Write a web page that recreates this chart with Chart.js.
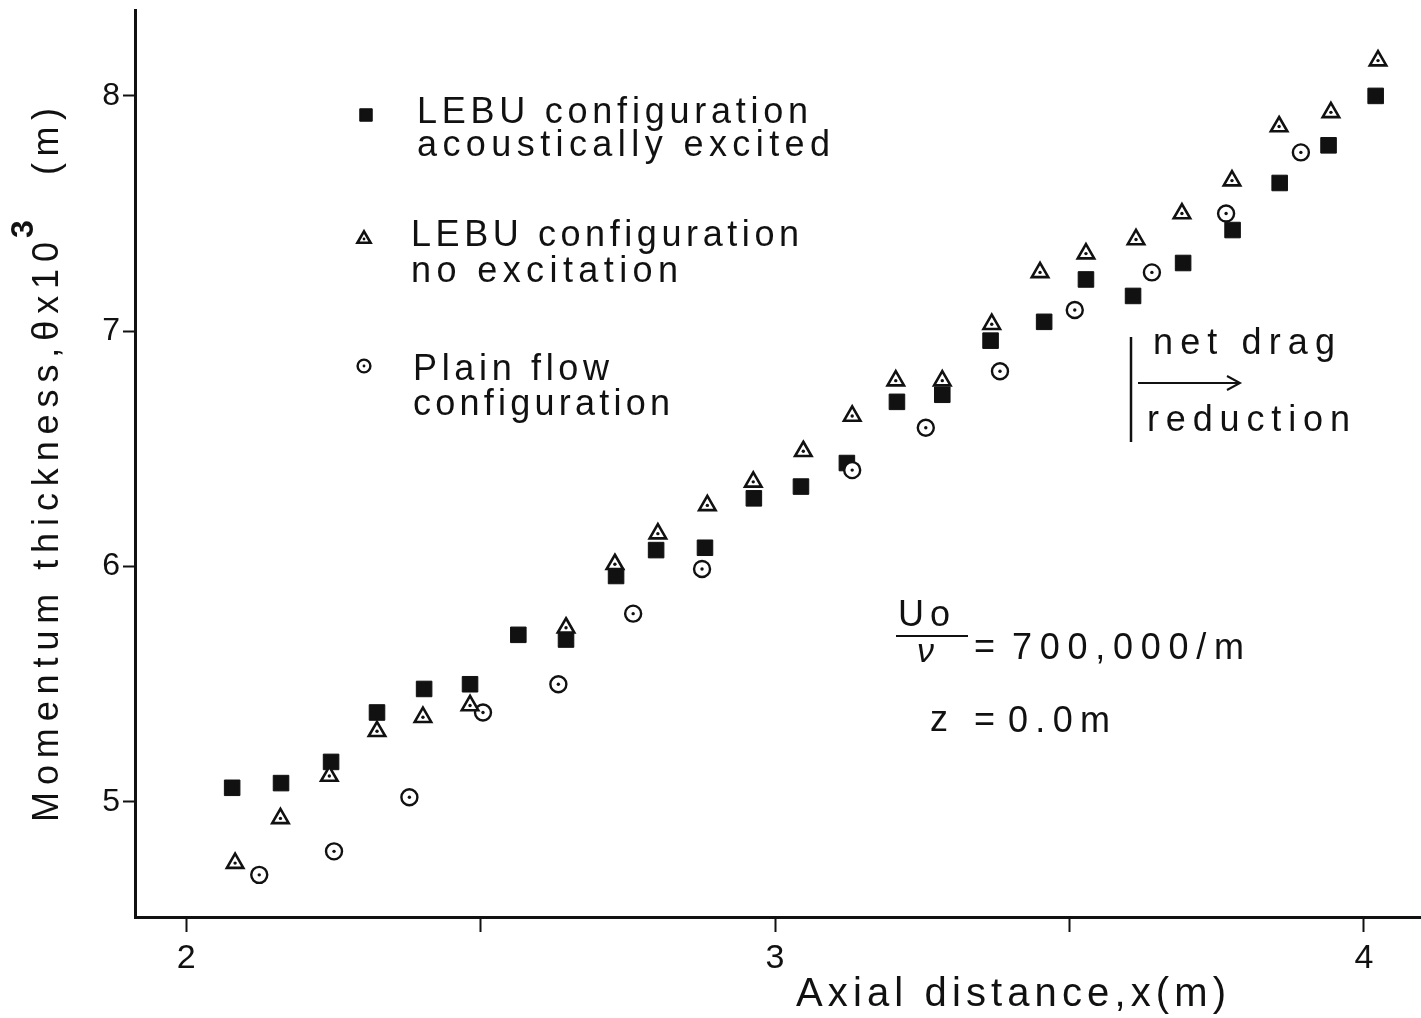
<!DOCTYPE html>
<html>
<head>
<meta charset="utf-8">
<script src="https://cdn.jsdelivr.net/npm/chart.js@4.4.1/dist/chart.umd.min.js"></script>
<style>
  html, body { margin: 0; padding: 0; background: #fff; }
  #wrap { width: 1421px; height: 1018px; position: relative; }
</style>
</head>
<body>
<div id="wrap"><canvas id="chart"></canvas></div>
<script>
// data
var excitedX = [2.078, 2.161, 2.246, 2.324, 2.404, 2.482, 2.564, 2.645, 2.730, 2.798, 2.881, 2.964, 3.044,
                3.122, 3.207, 3.284, 3.366, 3.457, 3.528, 3.608, 3.693, 3.777, 3.857, 3.940, 4.020];
var excitedY = [5.06, 5.08, 5.17, 5.38, 5.48, 5.50, 5.71, 5.69, 5.96, 6.07, 6.08, 6.29, 6.34,
                6.44, 6.70, 6.73, 6.96, 7.04, 7.22, 7.15, 7.29, 7.43, 7.63, 7.79, 8.00];

var noExcX = [2.083, 2.160, 2.243, 2.324, 2.402, 2.482, 2.645, 2.728, 2.801, 2.885, 2.963, 3.048,
              3.131, 3.205, 3.284, 3.368, 3.450, 3.528, 3.613, 3.691, 3.776, 3.856, 3.944, 4.024];
var noExcY = [4.74, 4.93, 5.11, 5.30, 5.36, 5.41, 5.74, 6.01, 6.14, 6.26, 6.36, 6.49,
              6.64, 6.79, 6.79, 7.03, 7.25, 7.33, 7.39, 7.50, 7.64, 7.87, 7.93, 8.15];

var plainX = [2.124, 2.251, 2.379, 2.504, 2.632, 2.759, 2.876, 3.131, 3.256, 3.382, 3.509, 3.640, 3.766, 3.893];
var plainY = [4.69, 4.79, 5.02, 5.38, 5.50, 5.80, 5.99, 6.41, 6.59, 6.83, 7.09, 7.25, 7.50, 7.76];

var xTicks = [2, 2.5, 3, 3.5, 4];
var xLabels = ['2', '', '3', '', '4'];
var yTicks = [5, 6, 7, 8];
var yLabels = ['5', '6', '7', '8'];

var seriesNames = [
    ['LEBU configuration', 'acoustically excited'],
    ['LEBU configuration', 'no excitation'],
    ['Plain flow', 'configuration']
];

var FONT = '"Liberation Sans", Arial, sans-serif';
var NARROW = '"Liberation Sans Narrow", "Liberation Sans", Arial, sans-serif';
var INK = '#111';

function pairs(xs, ys) {
    return xs.map(function(x, i) { return {x: x, y: ys[i]}; });
}

// write text stretched to a given width with letter spacing
function spaced(ctx, s, x, y, size, width, family, weight) {
    ctx.font = (weight || 'normal') + ' ' + size + 'px ' + (family || FONT);
    ctx.letterSpacing = '0px';
    var w = ctx.measureText(s).width;
    var sp = width ? (width - w) / Math.max(1, s.length - 1) : 0;
    ctx.letterSpacing = sp + 'px';
    ctx.fillText(s, x, y);
    ctx.letterSpacing = '0px';
    return width || w;
}

// keep the plot box where the figure has it
function noEdgePadding(scale) {
    scale.paddingTop = 0;
    scale.paddingBottom = 0;
    scale.paddingLeft = 0;
    scale.paddingRight = 0;
}

var centreDots = {
    id: 'centreDots',
    afterDatasetsDraw: function(chart) {
        var ctx = chart.ctx;
        ctx.save();
        ctx.fillStyle = INK;
        chart.data.datasets.forEach(function(ds, i) {
            if (!ds.centreDot) return;
            chart.getDatasetMeta(i).data.forEach(function(pt) {
                ctx.beginPath();
                ctx.arc(pt.x, pt.y, 1.7, 0, Math.PI * 2);
                ctx.fill();
            });
        });
        ctx.restore();
    }
};

var notes = {
    id: 'notes',
    afterDraw: function(chart) {
        var ctx = chart.ctx;
        ctx.save();
        ctx.fillStyle = INK;
        ctx.strokeStyle = INK;
        ctx.textBaseline = 'alphabetic';
        ctx.textAlign = 'left';

        // legend
        var rows = [{mx: 366, my: 115, tx: 417, b1: 123, b2: 156, w1: 391, w2: 413},
                    {mx: 364, my: 239, tx: 411, b1: 246, b2: 282, w1: 388, w2: 267},
                    {mx: 364, my: 366, tx: 413, b1: 380, b2: 415, w1: 196, w2: 257}];
        rows.forEach(function(r, i) {
            var ds = chart.data.datasets[i];
            ctx.save();
            ctx.fillStyle = ds.backgroundColor;
            ctx.strokeStyle = ds.borderColor;
            ctx.lineWidth = ds.borderWidth;
            Chart.helpers.drawPoint(ctx, {pointStyle: ds.pointStyle, radius: ds.pointRadius * 0.8,
                                          rotation: 0, borderWidth: ds.borderWidth}, r.mx, r.my);
            if (ds.centreDot) {
                ctx.fillStyle = INK;
                ctx.beginPath(); ctx.arc(r.mx, r.my, 1.4, 0, Math.PI * 2); ctx.fill();
            }
            ctx.restore();
            spaced(ctx, seriesNames[i][0], r.tx, r.b1, 36, r.w1);
            spaced(ctx, seriesNames[i][1], r.tx, r.b2, 36, r.w2);
        });

        // net drag reduction
        spaced(ctx, 'net drag', 1153, 354, 36, 182);
        spaced(ctx, 'reduction', 1147, 431, 36, 203);
        ctx.lineWidth = 2.5;
        ctx.beginPath(); ctx.moveTo(1131, 337); ctx.lineTo(1131, 442); ctx.stroke();
        ctx.lineWidth = 2;
        ctx.beginPath(); ctx.moveTo(1138, 383); ctx.lineTo(1240, 383); ctx.stroke();
        ctx.beginPath(); ctx.moveTo(1227, 376); ctx.lineTo(1240, 383); ctx.lineTo(1227, 390); ctx.stroke();

        // Uo / nu = 700,000/m
        spaced(ctx, 'Uo', 898, 626, 36, 52);
        ctx.lineWidth = 2;
        ctx.beginPath(); ctx.moveTo(896, 636); ctx.lineTo(968, 636); ctx.stroke();
        ctx.font = 'italic 34px ' + FONT;
        ctx.fillText('\u03bd', 917, 662);
        spaced(ctx, '=', 974, 658, 36, 0);
        spaced(ctx, '700,000/m', 1012, 659, 36, 232);
        spaced(ctx, 'z', 930, 731, 36, 0);
        spaced(ctx, '=', 974, 731, 36, 0);
        spaced(ctx, '0.0m', 1008, 732, 36, 102);

        // x axis title
        spaced(ctx, 'Axial distance,x(m)', 796, 1006, 40, 430, NARROW);

        // y axis title, rotated
        ctx.translate(58, 822);
        ctx.rotate(-Math.PI / 2);
        spaced(ctx, 'Momentum thickness,\u03b8x10', 0, 0, 36, 580, NARROW);
        spaced(ctx, '3', 584, -25, 32, 0, FONT, 'bold');
        spaced(ctx, '(m)', 647, 0, 36, 67, NARROW);
        ctx.restore();
    }
};

var ctx = document.getElementById('chart');
new Chart(ctx, {
    type: 'scatter',
    data: {
        datasets: [{
            label: seriesNames[0].join(' '),
            data: pairs(excitedX, excitedY),
            pointStyle: 'rect',
            pointRadius: 11,
            backgroundColor: INK,
            borderColor: INK,
            borderWidth: 1,
            order: 2
        }, {
            label: seriesNames[1].join(' '),
            data: pairs(noExcX, noExcY),
            pointStyle: 'triangle',
            pointRadius: 9.5,
            backgroundColor: '#fff',
            borderColor: INK,
            borderWidth: 2.6,
            centreDot: true,
            order: 0
        }, {
            label: seriesNames[2].join(' '),
            data: pairs(plainX, plainY),
            pointStyle: 'circle',
            pointRadius: 8,
            backgroundColor: '#fff',
            borderColor: INK,
            borderWidth: 2.4,
            centreDot: true,
            order: 1
        }]
    },
    options: {
        responsive: true,
        maintainAspectRatio: false,
        animation: false,
        layout: { autoPadding: false, padding: { top: 10, right: 0, left: 0, bottom: 0 } },
        plugins: {
            legend: { display: false },
            tooltip: { enabled: false }
        },
        scales: {
            x: {
                type: 'linear',
                min: 1.913,
                max: 4.097,
                afterBuildTicks: function(scale) {
                    scale.ticks = xTicks.map(function(v) { return {value: v}; });
                },
                afterFit: function(scale) { scale.height = 101; noEdgePadding(scale); },
                ticks: {
                    autoSkip: false,
                    maxRotation: 0,
                    padding: 6,
                    color: INK,
                    font: { family: FONT, size: 34 },
                    callback: function(v) { return xLabels[xTicks.indexOf(v)] || ''; }
                },
                grid: { drawOnChartArea: false, drawTicks: true, tickLength: 15, tickWidth: 2, tickColor: INK },
                border: { display: true, color: INK, width: 3 }
            },
            y: {
                type: 'linear',
                min: 4.511,
                max: 8.365,
                afterBuildTicks: function(scale) {
                    scale.ticks = yTicks.map(function(v) { return {value: v}; });
                },
                afterFit: function(scale) { scale.width = 135; noEdgePadding(scale); },
                ticks: {
                    autoSkip: false,
                    padding: 3,
                    color: INK,
                    font: { family: FONT, size: 32 },
                    callback: function(v) { return yLabels[yTicks.indexOf(v)] || ''; }
                },
                grid: { drawOnChartArea: false, drawTicks: true, tickLength: 12, tickWidth: 2, tickColor: INK },
                border: { display: true, color: INK, width: 3 }
            }
        }
    },
    plugins: [centreDots, notes]
});
</script>
</body>
</html>
